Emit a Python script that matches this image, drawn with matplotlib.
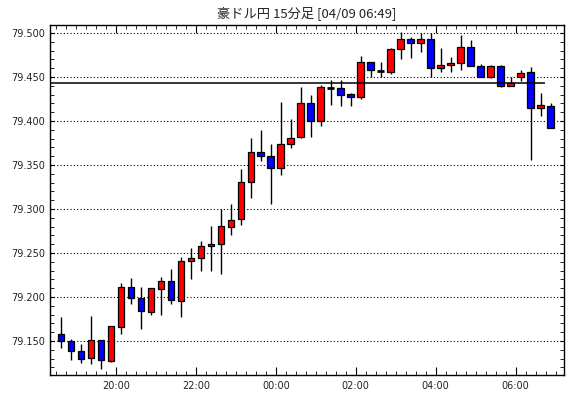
import numpy as np
import matplotlib
matplotlib.use("Agg")
import matplotlib.pyplot as plt
from matplotlib.ticker import MultipleLocator, FixedLocator

plt.rcParams['font.family'] = ['DejaVu Sans', 'Noto Sans CJK JP']

# 15分足 18:30 - 06:45
opens = [79.158, 79.150, 79.139, 79.131, 79.151, 79.127, 79.166, 79.211, 79.199, 79.183,
         79.209, 79.218, 79.196, 79.241, 79.244, 79.258, 79.260, 79.280, 79.289, 79.331,
         79.365, 79.360, 79.347, 79.374, 79.382, 79.420, 79.400, 79.438, 79.437, 79.431,
         79.427, 79.467, 79.457, 79.456, 79.482, 79.493, 79.489, 79.493, 79.460, 79.464,
         79.466, 79.484, 79.462, 79.450, 79.463, 79.440, 79.450, 79.456, 79.415, 79.417]
highs = [79.177, 79.152, 79.147, 79.179, 79.151, 79.167, 79.216, 79.222, 79.211, 79.210,
         79.223, 79.232, 79.246, 79.256, 79.264, 79.281, 79.300, 79.306, 79.345, 79.381,
         79.390, 79.374, 79.422, 79.402, 79.439, 79.429, 79.441, 79.447, 79.447, 79.432,
         79.474, 79.467, 79.467, 79.483, 79.501, 79.495, 79.500, 79.500, 79.483, 79.473,
         79.498, 79.492, 79.465, 79.464, 79.464, 79.450, 79.458, 79.461, 79.432, 79.420]
lows = [79.142, 79.128, 79.125, 79.124, 79.118, 79.126, 79.158, 79.192, 79.164, 79.180,
        79.180, 79.192, 79.177, 79.220, 79.230, 79.230, 79.226, 79.270, 79.282, 79.313,
        79.354, 79.306, 79.339, 79.369, 79.381, 79.382, 79.394, 79.418, 79.417, 79.417,
        79.425, 79.450, 79.450, 79.453, 79.471, 79.472, 79.478, 79.450, 79.456, 79.456,
        79.458, 79.462, 79.450, 79.449, 79.439, 79.440, 79.445, 79.356, 79.406, 79.392]
closes = [79.150, 79.139, 79.130, 79.151, 79.128, 79.167, 79.211, 79.199, 79.184, 79.210,
          79.218, 79.197, 79.241, 79.244, 79.258, 79.260, 79.281, 79.288, 79.331, 79.365,
          79.360, 79.347, 79.374, 79.381, 79.421, 79.400, 79.439, 79.438, 79.430, 79.427,
          79.467, 79.458, 79.457, 79.482, 79.493, 79.489, 79.493, 79.460, 79.464, 79.466,
          79.484, 79.462, 79.450, 79.462, 79.440, 79.443, 79.455, 79.415, 79.418, 79.392]
time_labels = ["20:00", "22:00", "00:00", "02:00", "04:00", "06:00"]
ref_line = 79.443

o = np.array(opens)
h = np.array(highs)
l = np.array(lows)
c = np.array(closes)
x = np.arange(len(o)) + 0.5  # candle centre within its 15 min slot

fig = plt.figure(figsize=(5.70, 3.98), dpi=100)
ax = fig.add_axes([49.5 / 570, 23 / 398, 514.5 / 570, 350 / 398])

# wicks
ax.vlines(x, l, h, color="black", lw=1.0, zorder=2)

up = c > o
down = c < o
flat = c == o
w = 0.66
ax.bar(x[up], (c - o)[up], bottom=o[up], width=w, color="#ff0000",
       edgecolor="black", linewidth=0.9, zorder=3)
ax.bar(x[down], (o - c)[down], bottom=c[down], width=w, color="#0000ff",
       edgecolor="black", linewidth=0.9, zorder=3)
ax.hlines(o[flat], x[flat] - w / 2, x[flat] + w / 2, color="black", lw=2, zorder=3)

ax.hlines(ref_line, -0.65, 48.9, color="black", lw=1.1, zorder=4)

ax.set_xlim(-0.65, 50.85)
ax.set_ylim(79.1114, 79.5091)

# ticks
ax.yaxis.set_major_locator(MultipleLocator(0.05))
ax.yaxis.set_minor_locator(MultipleLocator(0.01))
ax.yaxis.set_major_formatter(lambda v, p: "%.3f" % v)
ax.xaxis.set_major_locator(FixedLocator([6, 14, 22, 30, 38, 46]))
ax.xaxis.set_minor_locator(MultipleLocator(1))
ax.set_xticklabels(time_labels)

ax.tick_params(axis="both", which="both", direction="in", top=True, right=True,
               color="black", labelsize=7, labelcolor="#222222")
ax.tick_params(axis="x", which="major", length=6, pad=4)
ax.tick_params(axis="x", which="minor", length=3)
ax.tick_params(axis="y", which="major", length=3, pad=3)
ax.tick_params(axis="y", which="minor", length=3)

ax.yaxis.grid(True, which="major", color="black", linestyle=(0, (1, 2)), lw=0.8)
ax.set_axisbelow(True)
for s in ax.spines.values():
    s.set_linewidth(1.0)
    s.set_color("black")

fig.text(306.75 / 570, 1 - 13 / 398, "豪ドル円 15分足 [04/09 06:49]",
         ha="center", va="center", fontsize=9.5,
         family=["Noto Sans CJK JP", "DejaVu Sans"], color="#222222")

fig.savefig("out.png", dpi=100, facecolor="white")
